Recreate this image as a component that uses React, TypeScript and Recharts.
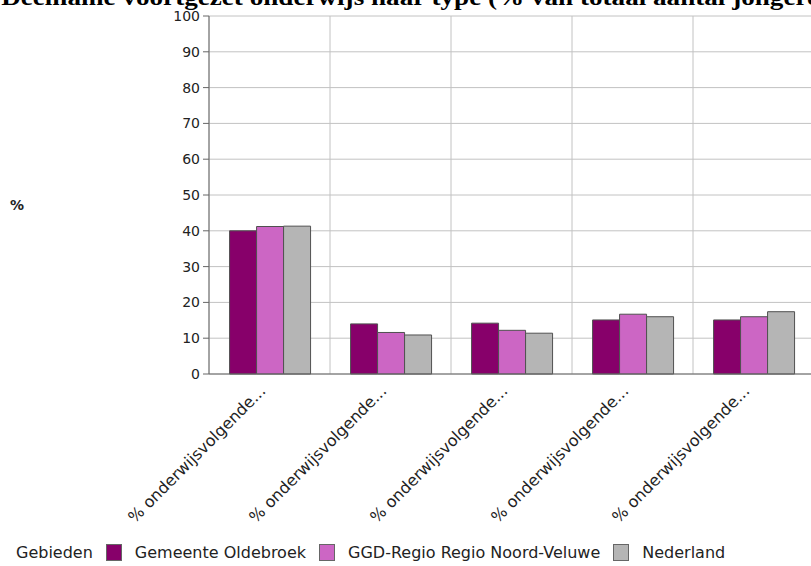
import React from "react";
import {
  BarChart, Bar, XAxis, YAxis, CartesianGrid,
} from "recharts";

const categories = [
  "% onderwijsvolgende...",
  "% onderwijsvolgende...",
  "% onderwijsvolgende...",
  "% onderwijsvolgende...",
  "% onderwijsvolgende...",
];
const oldebroek = [40.0, 14.0, 14.2, 15.1, 15.1];
const noordVeluwe = [41.2, 11.6, 12.2, 16.7, 16.0];
const nederland = [41.3, 10.9, 11.4, 16.0, 17.4];
const yTicks = [0, 10, 20, 30, 40, 50, 60, 70, 80, 90, 100];

const SERIES = [
  { key: "oldebroek", name: "Gemeente Oldebroek", color: "#87006a" },
  { key: "noordVeluwe", name: "GGD-Regio Regio Noord-Veluwe", color: "#cc66c4" },
  { key: "nederland", name: "Nederland", color: "#b5b5b5" },
];

const FONT = "'DejaVu Sans', sans-serif";

const data = categories.map((c, i) => ({
  id: `c${i}`,
  label: c,
  oldebroek: oldebroek[i],
  noordVeluwe: noordVeluwe[i],
  nederland: nederland[i],
}));

const XTick = ({ x, y, index }: any) => (
  <g transform={`translate(${x - 3},${y + 10})`}>
    <text
      transform="rotate(-45)"
      textAnchor="end"
      x={0}
      y={0}
      fontSize={16}
      fontFamily={FONT}
      fill="#222"
    >
      {categories[index]}
    </text>
  </g>
);

// vertical grid lines sit on the category boundaries, not the centres
const boundaryLines = ({ offset }: any) =>
  Array.from({ length: categories.length + 1 }, (_, i) => offset.left + (i * offset.width) / categories.length);

export default function App() {
  return (
    <div style={{ position: "relative", width: 811, height: 566, overflow: "hidden", background: "#fff" }}>
      <style>{`body{margin:0}`}</style>
      <BarChart
        width={814}
        height={566}
        data={data}
        margin={{ top: 16, right: 0, left: 0, bottom: 162 }}
        barCategoryGap="17%"
        barGap={0}
      >
        <CartesianGrid stroke="#c2c2c2" verticalCoordinatesGenerator={boundaryLines} />
        <XAxis
          dataKey="id"
          tick={<XTick />}
          tickLine={false}
          interval={0}
          axisLine={{ stroke: "#666" }}
        />
        <YAxis
          width={209}
          domain={[0, 100]}
          ticks={yTicks}
          interval={0}
          tickSize={6}
          tickMargin={3}
          axisLine={{ stroke: "#666" }}
          tickLine={{ stroke: "#666" }}
          tick={{ fontSize: 14, fontFamily: FONT, fill: "#222" }}
          label={{
            value: "%",
            position: "insideLeft",
            offset: 10,
            dy: 10,
            style: { fontSize: 14, fontFamily: FONT, fontWeight: "bold", fill: "#222" },
          }}
        />
        {SERIES.map((s) => (
          <Bar
            key={s.key}
            dataKey={s.key}
            name={s.name}
            fill={s.color}
            stroke="#505050"
            strokeWidth={1}
            isAnimationActive={false}
          />
        ))}
      </BarChart>
      <svg width={811} height={10} style={{ position: "absolute", left: 0, top: 0 }}>
        <text
          x={1}
          y={5}
          transform="scale(1.18,1)"
          fontFamily="'Liberation Serif', serif"
          fontWeight="bold"
          fontSize={23}
          fill="#000"
        >
          Deelname voortgezet onderwijs naar type (% van totaal aantal jongeren)
        </text>
      </svg>
      <div
        style={{
          position: "absolute",
          left: 16,
          top: 543,
          display: "flex",
          alignItems: "center",
          fontFamily: FONT,
          fontSize: 16,
          color: "#222",
          whiteSpace: "nowrap",
        }}
      >
        <span>Gebieden</span>
        {SERIES.map((s) => (
          <React.Fragment key={s.key}>
            <span
              style={{
                display: "inline-block",
                width: 14,
                height: 15,
                background: s.color,
                border: "1px solid #666",
                marginLeft: 13,
                marginRight: 13,
              }}
            />
            <span>{s.name}</span>
          </React.Fragment>
        ))}
      </div>
    </div>
  );
}
